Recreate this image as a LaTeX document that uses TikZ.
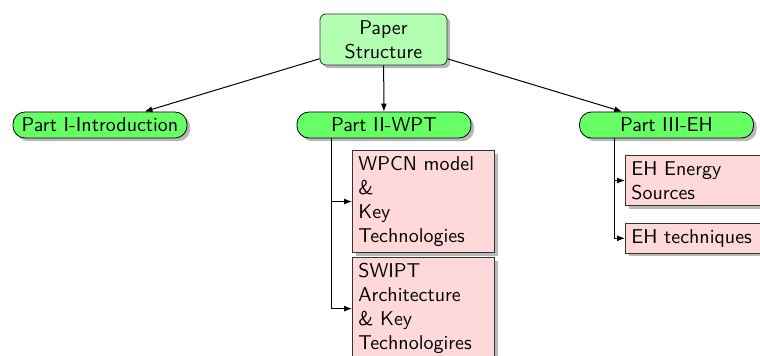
\documentclass[tikz,border=0pt]{standalone}
\usetikzlibrary{shadows,arrows.meta}
\begin{document}
\begin{tikzpicture}[x=0.5pt,y=-0.5pt,font=\sffamily,
  shade/.style={drop shadow={shadow xshift=1.6pt,shadow yshift=-1.6pt,fill=black,opacity=0.28}},
  rootbox/.style={draw=black!80,fill=green!30,rounded corners=3pt,align=center,
    minimum width=63.5pt,minimum height=25.5pt,inner sep=2pt,shade},
  partbox/.style={draw=black,fill=green!60,rounded corners=6pt,
    minimum width=87pt,minimum height=13pt,inner sep=1.5pt,shade},
  leafbox/.style={draw=black!80,fill=red!15,anchor=north west,align=left,
    text width=65pt,inner xsep=3pt,inner ysep=3pt,shade},
  conn/.style={-{Latex[length=4pt,width=3pt]},line width=0.5pt}]
\clip (0,0) rectangle (760,356);
\node[rootbox] (paper) at (383.5,39.5) {Paper\\Structure};
\node[partbox] (p1) at (100,125) {Part I-Introduction};
\node[partbox] (p2) at (384,125) {Part II-WPT};
\node[partbox] (p3) at (666.5,125) {Part III-EH};
\node[leafbox] (wpcn) at (352,150) {WPCN model\\\&\\Key\\Technologies};
\node[leafbox] (swipt) at (352,257) {SWIPT\\Architecture\\\& Key\\Technologires};
\node[leafbox] (eh1) at (625,155) {EH Energy\\Sources};
\node[leafbox] (eh2) at (625,223) {EH techniques};
\draw[conn] (paper) -- (p1);
\draw[conn] (paper) -- (p2);
\draw[conn] (paper) -- (p3);
\draw[conn] ([xshift=17.5pt]p2.south west) |- (wpcn.west);
\draw[conn] ([xshift=17.5pt]p2.south west) |- (swipt.west);
\draw[conn] ([xshift=17.5pt]p3.south west) |- (eh1.west);
\draw[conn] ([xshift=17.5pt]p3.south west) |- (eh2.west);
\end{tikzpicture}
\end{document}
